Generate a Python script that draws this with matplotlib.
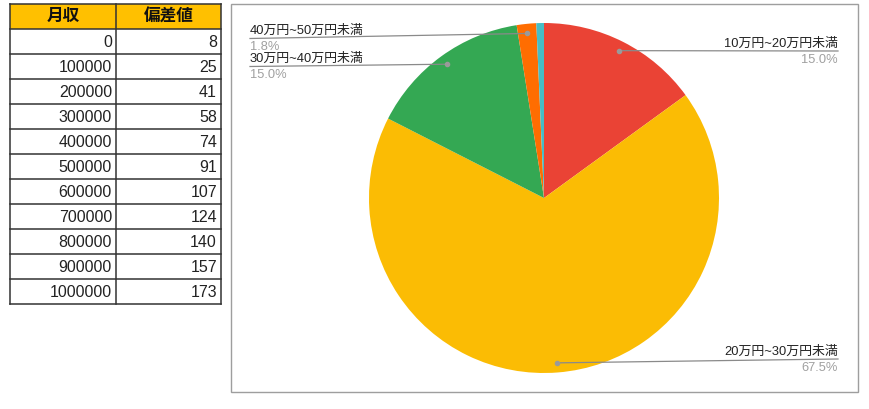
import numpy as np
import matplotlib
matplotlib.use("Agg")
import matplotlib.pyplot as plt
from matplotlib.patches import Rectangle

plt.rcParams['font.family'] = ['Liberation Sans', 'Noto Sans CJK JP', 'DejaVu Sans']

# === Data ===
table_header = ["月収", "偏差値"]
income = [0, 100000, 200000, 300000, 400000, 500000, 600000, 700000, 800000, 900000, 1000000]
score = [8, 25, 41, 58, 74, 91, 107, 124, 140, 157, 173]

pie_labels = ["10万円~20万円未満", "20万円~30万円未満", "30万円~40万円未満", "40万円~50万円未満", "50万円以上"]
pie_values = [15.0, 67.5, 15.0, 1.8, 0.7]
pie_colors = ["#EA4335", "#FBBC04", "#34A853", "#FF6D01", "#46BDC6"]

# label text anchors (pixel layout): x, underline y, alignment; None = no label
label_pos = [(838, 51, "right"), (838, 359, "right"), (250, 66.5, "left"), (250, 38.5, "left"), None]

W, H = 870, 409
fig = plt.figure(figsize=(W / 100, H / 100), dpi=100)


def pixel_axes():
    a = fig.add_axes([0, 0, 1, 1])
    a.set_xlim(0, W)
    a.set_ylim(H, 0)
    a.axis("off")
    a.patch.set_alpha(0)
    return a


bg = pixel_axes()

# === Table ===
x0, xm, x1 = 10, 116, 221
y0, rh = 4, 25
bg.add_patch(Rectangle((x0, y0), x1 - x0, rh, facecolor="#FFC000", edgecolor="none"))
n_rows = len(income) + 1
for i in range(n_rows + 1):
    bg.plot([x0, x1], [y0 + i * rh, y0 + i * rh], color="#333333", lw=1.1)
for xx in (x0, xm, x1):
    bg.plot([xx, xx], [y0, y0 + n_rows * rh], color="#333333", lw=1.1)
bg.text((x0 + xm) / 2, y0 + rh / 2, table_header[0], ha="center", va="center",
        fontsize=12, fontweight="bold", color="#111111")
bg.text((xm + x1) / 2, y0 + rh / 2, table_header[1], ha="center", va="center",
        fontsize=12, fontweight="bold", color="#111111")
for i, (a, b) in enumerate(zip(income, score)):
    yc = y0 + (i + 1.5) * rh + 1
    bg.text(xm - 4, yc, str(a), ha="right", va="center", fontsize=11.5, color="#222222")
    bg.text(x1 - 4, yc, str(b), ha="right", va="center", fontsize=11.5, color="#222222")

# === Chart box ===
bg.add_patch(Rectangle((231, 4), 627, 388, facecolor="none", edgecolor="#9E9E9E", lw=1))

# === Pie ===
cx, cy, r = 544, 198, 175
pax = fig.add_axes([(cx - r) / W, 1 - (cy + r) / H, 2 * r / W, 2 * r / H])
pax.pie(pie_values, colors=pie_colors, startangle=90, counterclock=False,
        radius=1, wedgeprops=dict(linewidth=0))
pax.set_xlim(-1, 1)
pax.set_ylim(-1, 1)
pax.set_aspect("equal")
pax.axis("off")

# leader lines and labels on top of the pie
top = pixel_axes()
total = sum(pie_values)
start = 0.0
for lab, val, pos in zip(pie_labels, pie_values, label_pos):
    mid = (start + val / 2) / total * 2 * np.pi
    start += val
    if pos is None:
        continue
    dx = cx + 0.945 * r * np.sin(mid)
    dy = cy - 0.945 * r * np.cos(mid)
    lx, ly, ha = pos
    top.plot([dx, lx], [dy, ly], color="#8A8A8A", lw=0.9)
    top.plot(dx, dy, "o", color="#9A9A9A", ms=3)
    top.text(lx, ly - 1.5, lab, ha=ha, va="bottom", fontsize=9.3, color="#222222")
    top.text(lx, ly + 3, f"{val:.1f}%", ha=ha, va="top", fontsize=9.3, color="#A0A0A0")

fig.savefig("out.png", dpi=100)
plt.close()
